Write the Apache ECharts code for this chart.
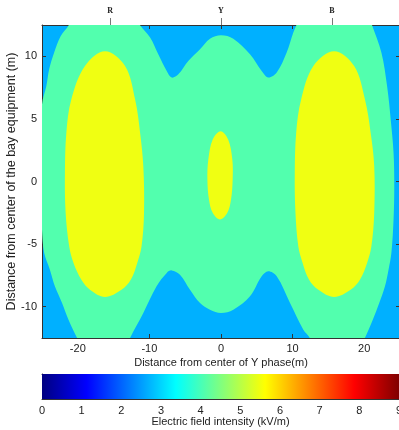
<!DOCTYPE html>
<html>
<head>
<meta charset="utf-8">
<script src="https://cdn.jsdelivr.net/npm/echarts@6/dist/echarts.min.js"></script>
<style>
  html, body { margin: 0; padding: 0; background: #fff; }
  #chart { width: 399px; height: 430px; }
</style>
</head>
<body>
<div id="chart"></div>
<script>
// axis ticks
const xTicks = [-20, -10, 0, 10, 20]
const yTicks = [-10, -5, 0, 5, 10]
const barTicks = [0, 1, 2, 3, 4, 5, 6, 7, 8, 9]
const phaseNames = ['R', 'Y', 'B']
const phasePos = [-15.5, 0, 15.5]
const barRange = [0, 9]

// contour boundaries, [x (m), y (m)]
// outer 3.5 kV/m line (points outside the box get clipped)
const greenRegion = [
  [-20.4, 13.4], [-12.1, 13.4], [-11.4, 12.56], [-9.9, 11.5], [-8.76, 10.16], [-7.58, 8.82],
  [-6.89, 8.3], [-5.96, 8.56], [-4.57, 9.62], [-2.93, 10.56], [-1.54, 11.4], [0, 11.68],
  [1.72, 11.4], [4.05, 10.16], [5.68, 8.82], [6.6, 8.3], [7.78, 8.7], [9.17, 10.3],
  [10.1, 11.9], [10.57, 12.56], [11.0, 13.4], [20.5, 13.4], [21.05, 12.56], [22.4, 10.3],
  [23.2, 7.6], [23.7, 4.96], [24.1, 2.3], [24.2, -0.37], [24.1, -3.04], [23.8, -5.7],
  [23.4, -7.04], [22.9, -8.37], [22.1, -9.7], [21.2, -11.04], [20.1, -12.5], [19.4, -13.4],
  [12.9, -13.4], [12.4, -12.5], [11.5, -11.84], [9.64, -9.7], [7.78, -7.57], [6.6, -7.17],
  [5.68, -7.57], [4.05, -9.17], [1.72, -10.24], [0, -10.5], [-1.54, -10.24], [-2.93, -9.7],
  [-4.33, -8.64], [-5.73, -7.44], [-6.89, -7.1], [-7.58, -7.3], [-9.0, -8.37], [-10.85, -10.5],
  [-12.7, -12.5], [-13.3, -13.4], [-19.3, -13.4], [-20.1, -12.5], [-21.3, -11.04], [-22.2, -9.7],
  [-23.2, -8.37], [-23.9, -7.04], [-24.7, -5.7], [-25.0, -3.84], [-25.4, 1.0], [-25.0, 6.16],
  [-24.4, 7.6], [-24.0, 8.96], [-23.3, 10.3], [-22.4, 11.6], [-21.2, 12.56], [-20.9, 13.4],
]

// inner 5 kV/m islands under R, Y and B
const leftIsland = [
  [-16.2, 10.4], [-13.4, 9.22], [-12.0, 6.56], [-11.3, 3.9], [-10.85, 1.22], [-10.75, -2.5],
  [-11.1, -5.2], [-11.7, -6.5], [-12.6, -7.84], [-13.9, -8.64], [-16.2, -9.22], [-18.3, -8.64],
  [-19.5, -7.84], [-20.6, -6.5], [-21.2, -5.2], [-21.7, -2.5], [-21.8, 0.6], [-21.6, 3.9],
  [-20.9, 6.56], [-19.0, 9.22],
]
const centerIsland = [
  [-0.05, 4.02], [1.0, 3.36], [1.58, 1.76], [1.63, 0.16], [1.4, -1.44], [0.88, -2.5],
  [-0.14, -3.04], [-1.16, -2.5], [-1.68, -1.44], [-1.9, 0.16], [-1.77, 1.76], [-1.16, 3.36],
]
const rightIsland = [
  [15.8, 10.4], [18.6, 9.22], [20.1, 6.56], [20.9, 3.9], [21.4, 1.22], [21.4, -2.5],
  [21.0, -5.2], [20.4, -6.5], [19.4, -7.84], [18.1, -8.64], [15.8, -9.22], [13.6, -8.64],
  [12.3, -7.84], [11.4, -6.5], [10.8, -5.2], [10.4, -2.5], [10.3, 0.6], [10.5, 3.9],
  [11.2, 6.56], [12.9, 9.22],
]
const yellowRegions = [leftIsland, centerIsland, rightIsland]

// jet colour map stops
const jetStops = ['#000080', '#0000ff', '#00ffff', '#ffff00', '#ff0000', '#800000']
const jetOffsets = [0, 0.125, 0.375, 0.625, 0.875, 1]

const lowColor = '#00b0ff'
const midColor = '#52ffae'
const highColor = '#f0ff12'

const font = "'Liberation Sans', Arial, sans-serif"
const lineColor = '#333'

const chart = echarts.init(document.getElementById('chart'))

const polygonItem = (regions, color) => (params, api) => ({
  type: 'polygon',
  shape: { points: regions[params.dataIndex].map((p) => api.coord(p)), smooth: 0.35 },
  style: { fill: color },
})

const boxAxis = (extra) => ({
  type: 'value',
  axisLine: { show: true, onZero: false, lineStyle: { color: lineColor, width: 1 } },
  splitLine: { show: false },
  nameMoveOverlap: false,
  ...extra,
})

const ticks = (values, length) => ({
  show: true, inside: true, length, customValues: values, lineStyle: { color: lineColor },
})

chart.setOption({
  animation: false,
  textStyle: { fontFamily: font },
  grid: [
    {
      left: 42, top: 25, width: 358, height: 313, outerBoundsMode: 'none', containLabel: false,
      show: true, backgroundColor: lowColor, borderWidth: 0,
    },
    { left: 42, top: 374, width: 357, height: 25, outerBoundsMode: 'none', containLabel: false },
  ],
  xAxis: [
    boxAxis({
      gridIndex: 0, min: -25, max: 25, position: 'bottom',
      axisTick: ticks(xTicks, 4),
      axisLabel: { customValues: xTicks, fontSize: 11, color: '#222', margin: 5 },
      name: 'Distance from center of Y phase(m)', nameLocation: 'middle', nameGap: 19,
      nameTextStyle: { fontSize: 11, color: '#222' },
    }),
    boxAxis({
      gridIndex: 0, min: -25, max: 25, position: 'top',
      axisTick: ticks(xTicks, 4),
      axisLabel: { show: false },
    }),
    {
      type: 'value', gridIndex: 0, min: -25, max: 25, position: 'top',
      axisLine: { show: false, onZero: false }, splitLine: { show: false },
      axisTick: { show: true, inside: false, length: 7, customValues: phasePos, lineStyle: { color: '#777' } },
      axisLabel: {
        customValues: phasePos, margin: 10, fontSize: 8, fontWeight: 'bold', color: '#222',
        fontFamily: "'Liberation Serif', 'DejaVu Serif', serif",
        formatter: (v) => phaseNames[phasePos.indexOf(v)],
      },
    },
    boxAxis({
      gridIndex: 1, min: barRange[0], max: barRange[1], position: 'bottom',
      axisTick: ticks(barTicks, 3),
      axisLabel: { customValues: barTicks, fontSize: 11, color: '#222', margin: 6 },
      name: 'Electric field intensity (kV/m)', nameLocation: 'middle', nameGap: 17,
      nameTextStyle: { fontSize: 11, color: '#222' },
    }),
    boxAxis({
      gridIndex: 1, min: barRange[0], max: barRange[1], position: 'top',
      axisTick: ticks(barTicks, 3),
      axisLabel: { show: false },
    }),
  ],
  yAxis: [
    boxAxis({
      gridIndex: 0, min: -12.5, max: 12.5, position: 'left',
      axisTick: ticks(yTicks, 4),
      axisLabel: { customValues: yTicks, fontSize: 11, color: '#222', margin: 5 },
      name: 'Distance from center of the bay equipment (m)', nameLocation: 'middle', nameGap: 24,
      nameTextStyle: { fontSize: 12.5, color: '#222' },
    }),
    boxAxis({
      gridIndex: 0, min: -12.5, max: 12.5, position: 'right',
      axisTick: ticks(yTicks, 4),
      axisLabel: { show: false },
    }),
    boxAxis({
      gridIndex: 1, min: 0, max: 1, position: 'left',
      axisTick: { show: false }, axisLabel: { show: false },
    }),
    boxAxis({
      gridIndex: 1, min: 0, max: 1, position: 'right',
      axisTick: { show: false }, axisLabel: { show: false },
    }),
  ],
  series: [
    {
      type: 'custom', xAxisIndex: 0, yAxisIndex: 0, clip: true, silent: true, z: 1,
      data: [[0, 0]],
      renderItem: polygonItem([greenRegion], midColor),
    },
    {
      type: 'custom', xAxisIndex: 0, yAxisIndex: 0, clip: true, silent: true, z: 2,
      data: [[-16, 0], [0, 0], [16, 0]],
      renderItem: polygonItem(yellowRegions, highColor),
    },
    {
      type: 'custom', xAxisIndex: 3, yAxisIndex: 2, silent: true,
      data: [barRange],
      renderItem: (params, api) => {
        const a = api.coord([api.value(0), 0])
        const b = api.coord([api.value(1), 1])
        return {
          type: 'rect',
          shape: { x: a[0], y: b[1], width: b[0] - a[0], height: a[1] - b[1] },
          style: {
            fill: new echarts.graphic.LinearGradient(0, 0, 1, 0,
              jetStops.map((c, i) => ({ offset: jetOffsets[i], color: c }))),
          },
        }
      },
    },
  ],
})
</script>
</body>
</html>
